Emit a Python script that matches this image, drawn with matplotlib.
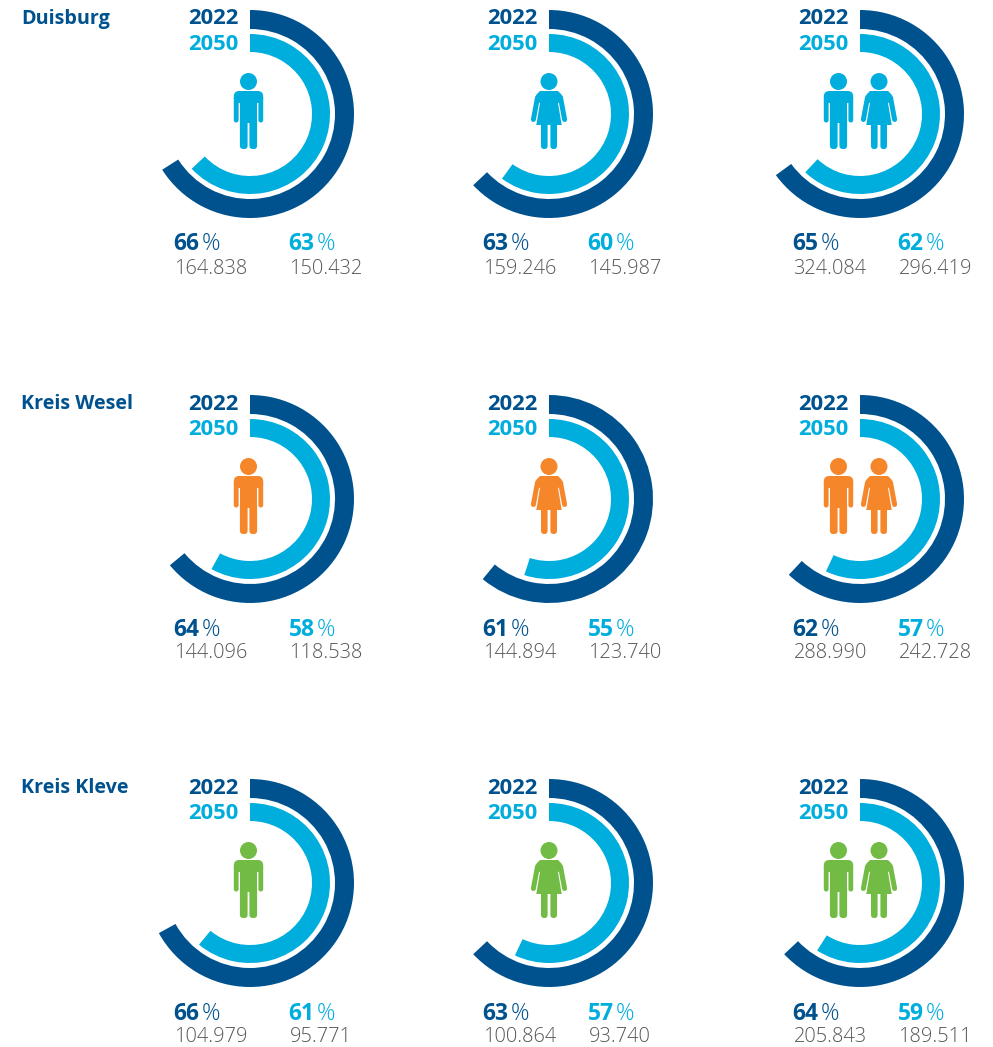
import matplotlib
matplotlib.use("Agg")
import matplotlib.pyplot as plt
from matplotlib.patches import Wedge, Circle, Rectangle, FancyBboxPatch, Polygon

regions = ["Duisburg", "Kreis Wesel", "Kreis Kleve"]
years = ["2022", "2050"]
pct_2022 = [[66, 63, 65], [64, 61, 62], [66, 63, 64]]
pct_2050 = [[63, 60, 62], [58, 55, 57], [61, 57, 59]]
# length of the drawn arcs (two differ slightly from their labels)
arc_2022 = [[66, 63, 65], [64, 61, 62], [67, 63, 63]]
arc_2050 = [[63, 60, 62], [58, 55, 57], [61, 57, 59]]
abs_2022 = [["164.838", "159.246", "324.084"], ["144.096", "144.894", "288.990"], ["104.979", "100.864", "205.843"]]
abs_2050 = [["150.432", "145.987", "296.419"], ["118.538", "123.740", "242.728"], ["95.771", "93.740", "189.511"]]

DARK = "#00528f"
LIGHT = "#00aede"
GREY = "#565656"
ICON = ["#00aede", "#f5862a", "#72bb44"]
FONT = "Open Sans"

W, H = 993, 1047
fig = plt.figure(figsize=(W / 100, H / 100), dpi=100)
ax = fig.add_axes([0, 0, 1, 1])
ax.set_xlim(0, W)
ax.set_ylim(H, 0)
ax.axis("off")

cx_cols = [250, 549, 860]
cy_rows = [114, 499, 883]
x_left = [173.5, 482.5, 792.5]
x_right = [288.5, 587.5, 897.5]
PX = 0.72  # points per pixel at dpi 100


def rrect(x0, y0, x1, y1, r, c):
    ax.add_patch(FancyBboxPatch((x0 + r, y0 + r), x1 - x0 - 2 * r, y1 - y0 - 2 * r,
                                boxstyle=f"round,pad={r},rounding_size={r}", fc=c, ec="none"))


def man(x, y, c):
    """x = icon centre, y = top of the head"""
    ax.add_patch(Circle((x, y + 8.5), 8.5, fc=c, ec="none"))
    rrect(x - 14.7, y + 18, x + 14.7, y + 30, 5.5, c)
    rrect(x - 14.7, y + 23, x - 9.9, y + 49.5, 2.4, c)
    rrect(x + 9.9, y + 23, x + 14.7, y + 49.5, 2.4, c)
    ax.add_patch(Rectangle((x - 8.6, y + 24), 17.2, 26, fc=c, ec="none"))
    rrect(x - 8.6, y + 44, x - 0.9, y + 76, 3.4, c)
    rrect(x + 0.9, y + 44, x + 8.6, y + 76, 3.4, c)


def woman(x, y, c):
    ax.add_patch(Circle((x, y + 8.5), 8.5, fc=c, ec="none"))
    for s in (-1, 1):
        ax.plot([x + s * 11.5, x + s * 15.6], [y + 24.5, y + 46.5], color=c, lw=5 * PX, solid_capstyle="round")
    ax.add_patch(Polygon([(x - 9, y + 18), (x + 9, y + 18), (x + 12.5, y + 21.5), (x + 13.5, y + 28),
                          (x + 9, y + 30), (x + 12.7, y + 52), (x - 12.7, y + 52), (x - 9, y + 30),
                          (x - 13.5, y + 28), (x - 12.5, y + 21.5)],
                         closed=True, fc=c, ec="none"))
    rrect(x - 8, y + 48, x - 1.4, y + 76, 3.2, c)
    rrect(x + 1.4, y + 48, x + 8, y + 76, 3.2, c)


def arc(cx, cy, r_out, r_in, pct, c):
    # starts at 12 o'clock and runs clockwise on screen (y axis is inverted)
    ax.add_patch(Wedge((cx, cy), r_out, -90, -90 + pct * 3.6, width=r_out - r_in, fc=c, ec="none"))


for r, region in enumerate(regions):
    cy = cy_rows[r]
    ax.text(21, cy - 95, region, color=DARK, fontsize=14.2, fontweight="bold", family=FONT, va="center", ha="left")
    for k in range(3):
        cx = cx_cols[k]
        arc(cx, cy, 104, 85, arc_2022[r][k], DARK)
        arc(cx, cy, 80, 62, arc_2050[r][k], LIGHT)
        ax.text(cx - 11.5, cy - 95, years[0], color=DARK, fontsize=15.8, fontweight="bold", family=FONT, va="center", ha="right")
        ax.text(cx - 11.5, cy - 69.5, years[1], color=LIGHT, fontsize=15.8, fontweight="bold", family=FONT, va="center", ha="right")
        c = ICON[r]
        top = cy - 41
        if k == 0:
            man(cx - 1.5, top, c)
        elif k == 1:
            woman(cx, top, c)
        else:
            man(cx - 21.5, top, c)
            woman(cx + 19, top, c)
        for xp, p, v, col in [(x_left[k], pct_2022[r][k], abs_2022[r][k], DARK),
                              (x_right[k], pct_2050[r][k], abs_2050[r][k], LIGHT)]:
            t = ax.text(xp, cy + 130.5, str(p), color=col, fontsize=16.5, fontweight="bold", family=FONT, va="center", ha="left")
            ax.annotate("%", xy=(1, 0), xycoords=t, xytext=(1.8, 0), textcoords="offset points",
                        color=col, fontsize=16.5, family=FONT, va="bottom", ha="left", fontweight="light")
            ax.text(xp + 1, cy + 154.5, v, color=GREY, fontsize=14.4, family=FONT, va="center", ha="left", fontweight="light")

fig.savefig("out.png", dpi=100, facecolor="white")
